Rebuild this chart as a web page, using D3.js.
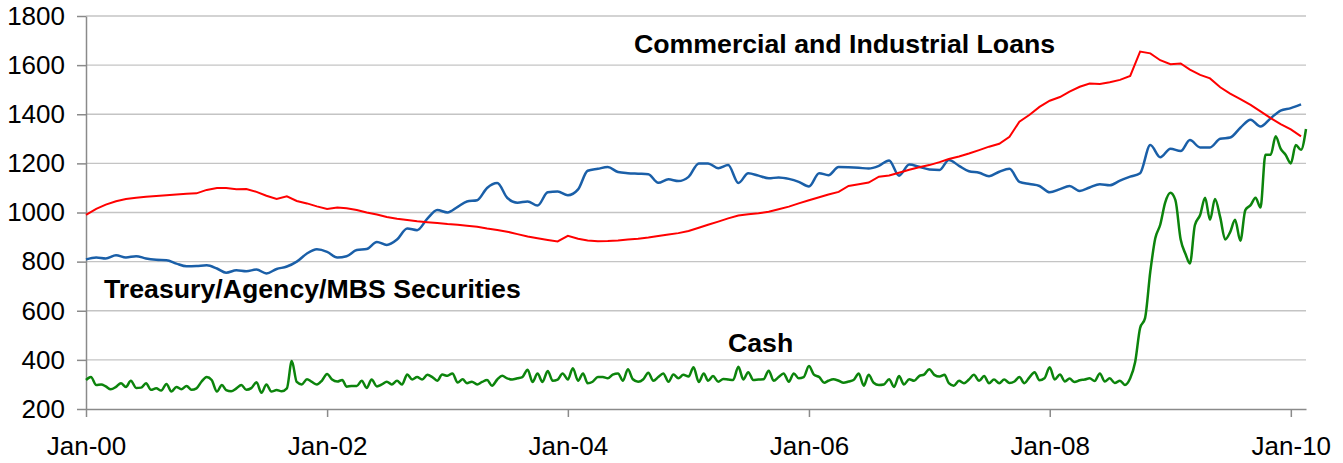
<!DOCTYPE html>
<head>
  <meta charset="utf-8">
  <script src="https://d3js.org/d3.v7.min.js"></script>
  <style type="text/css">
    body { margin:0; background:#fff; }
    .grid line { stroke: #c4c4c4; stroke-width: 1.3; }
    .axis path, .axis line { stroke: #8a8a8a; stroke-width: 1.5; }
    .axis text { font-family: "Liberation Sans", Arial, sans-serif; font-size: 26px; fill: #000; }
    .loans { fill: none; stroke: #ff0000; stroke-width: 2; }
    .treas { fill: none; stroke: #1a5fa8; stroke-width: 2.5; }
    .cash  { fill: none; stroke: #0c840c; stroke-width: 2.5; }
    .label { font-family: "Liberation Sans", Arial, sans-serif; font-size: 26.7px; font-weight: bold; fill: #000; }
  </style>
</head>

<body>
  <script>

  // monthly series start Jan 2000, cash is twice a month (1st and 16th)
  var startYear = 2000;

  var yTicks = [200, 400, 600, 800, 1000, 1200, 1400, 1600, 1800];
  var xTickLabels = ["Jan-00", "Jan-02", "Jan-04", "Jan-06", "Jan-08", "Jan-10"];

  // Commercial and Industrial Loans, monthly
  var loans = [990, 1015, 1032, 1046, 1055, 1060, 1064, 1067, 1070, 1073, 1076, 1078,
    1092, 1100, 1100, 1095, 1096, 1084, 1068, 1055, 1066, 1047, 1037, 1025,
    1014, 1020, 1017, 1010, 1000, 992, 982, 975, 969, 964, 960, 957,
    953, 950, 946, 942, 935, 929, 922, 912, 902, 895, 888, 882,
    905, 893, 886, 883, 884, 886, 890, 893, 898, 904, 910, 916,
    925, 938, 950, 963, 976, 988, 993, 997, 1003, 1013, 1024, 1037,
    1050, 1062, 1073, 1084, 1108, 1115, 1122, 1146, 1151, 1162, 1174, 1184,
    1193, 1205, 1218, 1228, 1240, 1254, 1268, 1280, 1308, 1370, 1398, 1430,
    1455, 1470, 1492, 1512, 1525, 1523, 1530, 1540, 1556, 1655, 1648, 1620,
    1604, 1607, 1582, 1560, 1546, 1510, 1484, 1462, 1438, 1412, 1384, 1360,
    1338, 1310];

  // Treasury/Agency/MBS Securities, monthly
  var treasury = [809, 817, 813, 826, 817, 822, 813, 808, 806, 792, 781, 782,
    785, 772, 755, 765, 761, 768, 752, 770, 780, 800, 833, 850,
    840, 817, 822, 847, 851, 880, 868, 890, 935, 928, 975, 1010,
    1000, 1023, 1045, 1050, 1100, 1120, 1060, 1040, 1045, 1028, 1082, 1085,
    1070, 1094, 1170, 1178, 1185, 1165, 1160, 1158, 1156, 1121, 1135, 1128,
    1145, 1200, 1200, 1180, 1193, 1120, 1160, 1150, 1139, 1143, 1137, 1125,
    1106, 1160, 1152, 1185, 1184, 1182, 1179, 1190, 1212, 1150, 1195, 1186,
    1175, 1173, 1214, 1190, 1168, 1162, 1148, 1166, 1178, 1125, 1116, 1108,
    1082, 1095, 1108, 1088, 1102, 1115, 1111, 1130, 1146, 1160, 1275, 1225,
    1260, 1250, 1295, 1265, 1265, 1300, 1305, 1345, 1378, 1350, 1384, 1415,
    1425, 1440];

  // Cash, twice a month
  var cash = [318, 330, 298, 300, 292, 280, 290, 305, 290, 315, 286, 287,
    305, 278, 284, 275, 302, 271, 290, 280, 294, 278, 284, 311,
    330, 318, 271, 298, 277, 272, 284, 298, 278, 285, 309, 266,
    300, 271, 277, 272, 284, 395, 310, 300, 321, 310, 300, 315,
    343, 320, 312, 318, 291, 294, 294, 315, 286, 320, 292, 300,
    311, 300, 315, 300, 340, 320, 330, 320, 339, 330, 315, 340,
    335, 345, 308, 321, 305, 311, 300, 310, 318, 295, 320, 335,
    325, 320, 325, 330, 360, 310, 345, 310, 355, 315, 320, 345,
    320, 366, 315, 345, 305, 311, 330, 330, 325, 340, 345, 315,
    362, 321, 311, 320, 348, 315, 330, 345, 311, 340, 325, 339,
    332, 370, 310, 345, 315, 334, 311, 322, 320, 318, 372, 320,
    350, 318, 320, 321, 356, 315, 330, 345, 311, 345, 325, 330,
    375, 340, 330, 307, 315, 321, 315, 307, 312, 318, 345, 295,
    339, 307, 298, 300, 321, 290, 334, 300, 321, 315, 334, 340,
    362, 339, 332, 339, 305, 295, 315, 305, 320, 339, 315, 334,
    305, 320, 305, 320, 306, 312, 330, 305, 330, 350, 317, 325,
    370, 320, 340, 312, 324, 310, 317, 320, 325, 314, 345, 312,
    325, 306, 315, 298, 325, 391, 530, 570, 760, 895, 950, 1040,
    1080, 1050, 890, 830, 792, 948, 990, 1060, 970, 1055, 980, 890,
    920, 970, 885, 1010, 1030, 1060, 1020, 1235, 1235, 1310, 1260, 1235,
    1200, 1275, 1255, 1340];

  function monthDate(i) { return new Date(startYear, i, 1); }
  function halfMonthDate(i) { return new Date(startYear, Math.floor(i / 2), i % 2 ? 16 : 1); }

  var margin = {top: 16, left: 86},
      width = 1220,
      height = 393;

  var xScale = d3.scaleTime()
    .domain([new Date(2000, 0, 1), new Date(2010, 1, 16)])
    .range([0, width]);

  var yScale = d3.scaleLinear()
    .domain([200, 1800])
    .range([height, 0]);

  var svg = d3.select("body").append("svg")
    .attr("width", 1343)
    .attr("height", 463)
    .append("g")
    .attr("transform", "translate(" + margin.left + "," + margin.top + ")");

  // horizontal gridlines
  svg.append("g")
    .attr("class", "grid")
    .selectAll("line")
    .data(yTicks.slice(1))
    .enter().append("line")
    .attr("x1", 0)
    .attr("x2", width)
    .attr("y1", function(d) { return yScale(d); })
    .attr("y2", function(d) { return yScale(d); });

  var xTicks = xTickLabels.map(function(s) { return d3.timeParse("%b-%y")(s); });

  svg.append("g")
    .attr("class", "axis")
    .attr("transform", "translate(0," + height + ")")
    .call(d3.axisBottom(xScale)
      .tickValues(xTicks)
      .tickFormat(d3.timeFormat("%b-%y"))
      .tickSize(8)
      .tickSizeOuter(0)
      .tickPadding(20));

  svg.append("g")
    .attr("class", "axis")
    .call(d3.axisLeft(yScale)
      .tickValues(yTicks)
      .tickFormat(d3.format("d"))
      .tickSize(9)
      .tickSizeOuter(0)
      .tickPadding(12));

  var line = d3.line()
    .x(function(d) { return xScale(d[0]); })
    .y(function(d) { return yScale(d[1]); });

  var smooth = d3.line()
    .x(function(d) { return xScale(d[0]); })
    .y(function(d) { return yScale(d[1]); })
    .curve(d3.curveMonotoneX);

  svg.append("path")
    .datum(cash.map(function(v, i) { return [halfMonthDate(i), v]; }))
    .attr("class", "cash")
    .attr("d", smooth);

  svg.append("path")
    .datum(treasury.map(function(v, i) { return [monthDate(i), v]; }))
    .attr("class", "treas")
    .attr("d", smooth);

  svg.append("path")
    .datum(loans.map(function(v, i) { return [monthDate(i), v]; }))
    .attr("class", "loans")
    .attr("d", line);

  // series labels
  svg.append("text").attr("class", "label")
    .attr("x", 634 - margin.left).attr("y", 53 - margin.top)
    .text("Commercial and Industrial Loans");
  svg.append("text").attr("class", "label")
    .attr("x", 104 - margin.left).attr("y", 298 - margin.top)
    .text("Treasury/Agency/MBS Securities");
  svg.append("text").attr("class", "label")
    .attr("x", 728 - margin.left).attr("y", 352 - margin.top)
    .text("Cash");

  </script>
</body>
